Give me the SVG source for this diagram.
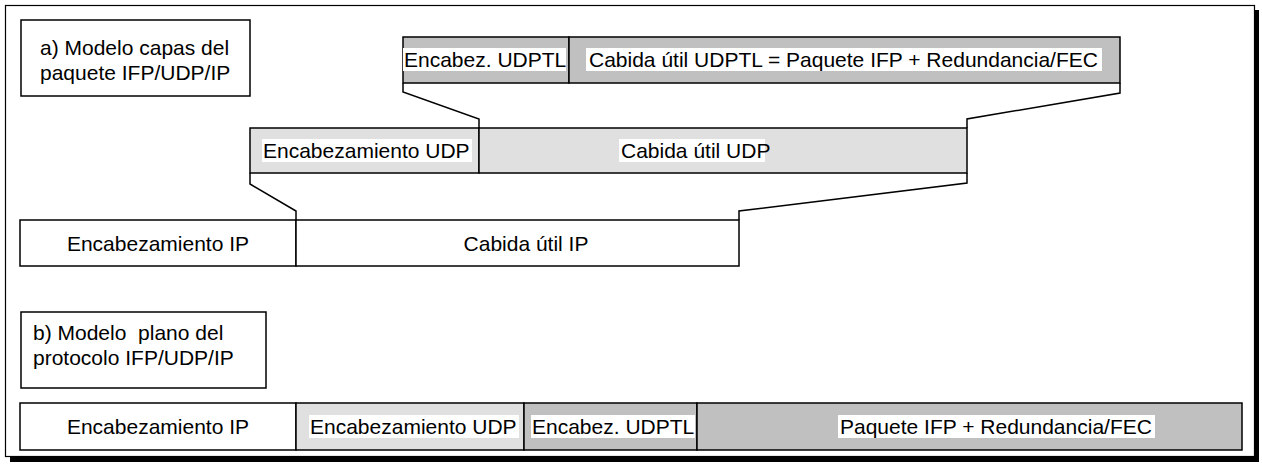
<svg xmlns="http://www.w3.org/2000/svg" width="1262" height="466" viewBox="0 0 1262 466">
  <style>
    text { font-family: "Liberation Sans", Arial, sans-serif; font-size: 21px; fill: #000; }
    .cell { stroke: #000; stroke-width: 1.5; }
    .white { fill: #fff; }
    .light { fill: #e0e0e0; }
    .dark { fill: #c0c0c0; }
    .hl { fill: #fff; stroke: none; }
    .box { fill: #fff; stroke: #000; stroke-width: 1.5; }
    .conn { fill: none; stroke: #000; stroke-width: 1.5; }
    .mid { text-anchor: middle; }
  </style>

  <!-- outer frame with drop shadow -->
  <g id="frame">
    <rect x="0" y="0" width="1262" height="466" fill="#fff"/>
    <rect x="1254" y="10" width="5" height="452" fill="#000"/>
    <rect x="10" y="457" width="1249" height="5" fill="#000"/>
    <rect x="5.5" y="5.5" width="1249" height="451" fill="#fff" stroke="#000" stroke-width="1.2"/>
  </g>

  <!-- captions -->
  <g id="label-a">
    <rect class="box" x="21" y="20" width="229" height="76"/>
    <text x="40" y="55">a) Modelo capas del</text>
    <text x="40" y="80">paquete IFP/UDP/IP</text>
  </g>
  <g id="label-b">
    <rect class="box" x="21" y="312" width="245" height="76"/>
    <text x="33" y="340" xml:space="preserve">b) Modelo  plano del</text>
    <text x="33" y="365">protocolo IFP/UDP/IP</text>
  </g>

  <!-- UDPTL packet -->
  <g id="row-udptl">
    <rect class="cell dark" x="403" y="37" width="166" height="46"/>
    <rect class="cell dark" x="569" y="37" width="551" height="46"/>
    <rect class="hl" x="403" y="48" width="163" height="23"/>
    <text x="404" y="67">Encabez. UDPTL</text>
    <rect class="hl" x="586" y="48" width="516" height="23"/>
    <text x="589" y="67">Cabida útil UDPTL = Paquete IFP + Redundancia/FEC</text>
  </g>

  <!-- UDP datagram -->
  <g id="row-udp">
    <rect class="cell light" x="250" y="128" width="229" height="45"/>
    <rect class="cell light" x="479" y="128" width="488" height="45"/>
    <rect class="hl" x="262" y="139" width="210" height="23"/>
    <text x="263" y="158">Encabezamiento UDP</text>
    <rect class="hl" x="619" y="139" width="146" height="23"/>
    <text x="621" y="158">Cabida útil UDP</text>
  </g>

  <!-- IP packet -->
  <g id="row-ip">
    <rect class="cell white" x="20" y="220" width="276" height="46"/>
    <rect class="cell white" x="296" y="220" width="443" height="46"/>
    <text class="mid" x="158" y="251">Encabezamiento IP</text>
    <text class="mid" x="526" y="251">Cabida útil IP</text>
  </g>

  <!-- flat protocol layout -->
  <g id="row-flat">
    <rect class="cell white" x="20" y="403" width="276" height="47"/>
    <rect class="cell light" x="296" y="403" width="228" height="47"/>
    <rect class="cell dark" x="524" y="403" width="173" height="47"/>
    <rect class="cell dark" x="697" y="403" width="545" height="47"/>
    <text class="mid" x="158" y="434">Encabezamiento IP</text>
    <rect class="hl" x="309" y="415" width="210" height="23"/>
    <text x="310" y="434">Encabezamiento UDP</text>
    <rect class="hl" x="531" y="415" width="164" height="23"/>
    <text x="532" y="434">Encabez. UDPTL</text>
    <rect class="hl" x="838" y="415" width="317" height="23"/>
    <text x="840" y="434">Paquete IFP + Redundancia/FEC</text>
  </g>

  <!-- encapsulation connectors -->
  <g id="connectors">
    <polyline class="conn" points="403,83 403,92 479,119 479,128"/>
    <polyline class="conn" points="1120,83 1120,93 967,119 967,128"/>
    <polyline class="conn" points="250,173 250,184 296,211 296,220"/>
    <polyline class="conn" points="967,173 967,183 739,211 739,220"/>
  </g>
</svg>
